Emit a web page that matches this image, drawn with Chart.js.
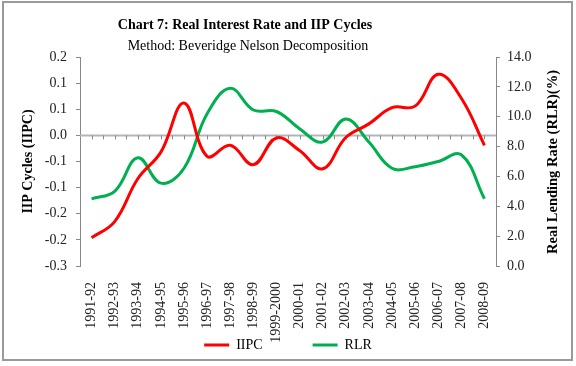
<!DOCTYPE html>
<html>
<head>
<meta charset="utf-8">
<script src="https://cdn.jsdelivr.net/npm/chart.js@4.4.1/dist/chart.umd.min.js"></script>
<style>
  html, body { margin: 0; padding: 0; background: #fff; }
  #wrap { width: 576px; height: 366px; position: relative; }
</style>
</head>
<body>
<div id="wrap"><canvas id="chart"></canvas></div>
<script>
// Chart data
const years = ['1991-92', '1992-93', '1993-94', '1994-95', '1995-96', '1996-97', '1997-98', '1998-99',
    '1999-2000', '2000-01', '2001-02', '2002-03', '2003-04', '2004-05', '2005-06', '2006-07', '2007-08', '2008-09'];
const iipc = [-0.196, -0.165, -0.083, -0.032, 0.062, -0.040, -0.019, -0.056, -0.005,
    -0.029, -0.064, -0.004, 0.022, 0.053, 0.056, 0.117, 0.071, -0.019];
const rlr = [4.5, 5.0, 7.25, 5.55, 6.55, 10.2, 11.9, 10.45, 10.35,
    9.2, 8.3, 9.85, 8.3, 6.55, 6.65, 7.0, 7.45, 4.5];
const leftTicks = ['-0.3', '-0.2', '-0.2', '-0.1', '-0.1', '0.0', '0.1', '0.1', '0.2'];
const rightTicks = ['0.0', '2.0', '4.0', '6.0', '8.0', '10.0', '12.0', '14.0'];

const SERIF = "'Liberation Serif', 'Times New Roman', serif";
Chart.defaults.font.family = SERIF;
Chart.defaults.color = '#222';

// titles, zero line, right axis title, frame
const decor = {
    id: 'decor',
    afterLayout(chart) {
        // the x labels hang below their (short) box, so don't clip them to it
        chart.scales.x.bottom = chart.height;
    },
    beforeDatasetsDraw(chart) {
        const { ctx, chartArea } = chart;
        const xs = chart.scales.x;
        const y0 = chart.scales.y.getPixelForValue(0);
        ctx.save();
        ctx.strokeStyle = '#b5b5b5';
        ctx.lineWidth = 2;
        ctx.beginPath();
        ctx.moveTo(chartArea.left, y0);
        ctx.lineTo(chartArea.right, y0);
        ctx.stroke();
        // small tick marks at category centres and boundaries
        const half = (xs.getPixelForValue(1) - xs.getPixelForValue(0)) / 2;
        ctx.strokeStyle = '#888';
        ctx.lineWidth = 1;
        ctx.beginPath();
        years.forEach((_, i) => {
            const c = xs.getPixelForValue(i);
            [c, c + half].forEach(x => {
                if (x < chartArea.right - 1) {
                    ctx.moveTo(Math.round(x) + 0.5, y0);
                    ctx.lineTo(Math.round(x) + 0.5, y0 + 4);
                }
            });
        });
        ctx.stroke();
        ctx.restore();
    },
    afterDraw(chart) {
        const { ctx } = chart;
        ctx.save();
        ctx.fillStyle = '#000';
        ctx.textAlign = 'center';
        ctx.textBaseline = 'alphabetic';
        ctx.font = 'bold 14px ' + SERIF;
        ctx.fillText('Chart 7: Real Interest Rate and IIP Cycles', 245, 29);
        ctx.font = '14px ' + SERIF;
        ctx.fillText('Method: Beveridge Nelson Decomposition', 248, 50);

        // right axis title reads bottom to top
        ctx.translate(553, 162);
        ctx.rotate(-Math.PI / 2);
        ctx.textBaseline = 'middle';
        ctx.font = 'bold 14.5px ' + SERIF;
        ctx.fillText('Real Lending Rate (RLR)(%)', 0, 0);
        ctx.restore();

        ctx.save();
        ctx.strokeStyle = '#9a9a9a';
        ctx.lineWidth = 2;
        ctx.strokeRect(3, 2, 569, 358);
        ctx.restore();
    }
};

new Chart(document.getElementById('chart'), {
    type: 'line',
    data: {
        labels: years,
        datasets: [{
            label: 'IIPC',
            data: iipc,
            yAxisID: 'y',
            borderColor: '#ff0000',
            backgroundColor: '#ff0000',
            borderWidth: 3,
            pointRadius: 0,
            tension: 0.4
        }, {
            label: 'RLR',
            data: rlr,
            yAxisID: 'y1',
            borderColor: '#00b050',
            backgroundColor: '#00b050',
            borderWidth: 3,
            pointRadius: 0,
            tension: 0.4
        }]
    },
    options: {
        responsive: true,
        maintainAspectRatio: false,
        animation: false,
        layout: { padding: { top: 57, bottom: 4, left: 0, right: 0 } },
        plugins: {
            title: { display: false },
            tooltip: { enabled: false },
            legend: {
                position: 'bottom',
                labels: {
                    usePointStyle: true,
                    pointStyle: 'line',
                    pointStyleWidth: 25,
                    padding: 50,
                    color: '#000',
                    font: { size: 14 }
                }
            }
        },
        scales: {
            x: {
                offset: true,
                grid: { display: false },
                border: { display: false },
                ticks: {
                    minRotation: 90,
                    maxRotation: 90,
                    autoSkip: false,
                    padding: 8,
                    font: { size: 14 }
                },
                afterFit: s => { s.height = 22; }
            },
            y: {
                position: 'left',
                min: -0.25,
                max: 0.15,
                ticks: {
                    stepSize: 0.05,
                    padding: 9,
                    font: { size: 14 },
                    callback: (v, i) => leftTicks[i] ?? ''
                },
                grid: { drawOnChartArea: false, tickLength: 4, color: '#888' },
                border: { color: '#888' },
                title: {
                    display: true,
                    text: 'IIP Cycles (IIPC)',
                    color: '#000',
                    font: { size: 14, weight: 'bold' },
                    padding: { top: 20, bottom: 0 }
                },
                afterFit: s => { s.width = 80; }
            },
            y1: {
                position: 'right',
                min: 0,
                max: 14,
                ticks: {
                    stepSize: 2,
                    padding: 7,
                    font: { size: 14 },
                    callback: (v, i) => rightTicks[i] ?? ''
                },
                grid: { drawOnChartArea: false, tickLength: 4, color: '#888' },
                border: { color: '#888' },
                afterFit: s => { s.width = 80; }
            }
        }
    },
    plugins: [decor]
});
</script>
</body>
</html>
